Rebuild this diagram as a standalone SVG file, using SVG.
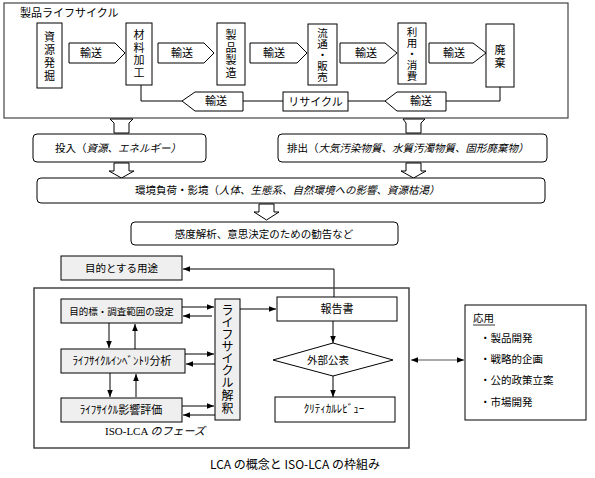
<svg xmlns="http://www.w3.org/2000/svg" width="595" height="478" viewBox="0 0 595 478">
<defs>
<style>
text{font-family:"Noto Sans CJK JP","Liberation Serif",serif;fill:#000;}
.t11{font-size:11px;}
.t105{font-size:10.5px;}
.t10{font-size:10px;}
.c{text-anchor:middle;}
.it{font-style:italic;}
.box{fill:#fff;stroke:#000;stroke-width:1;}
.gbox{fill:#efefef;stroke:#000;stroke-width:1;}
.rbox{fill:#fff;stroke:#000;stroke-width:1;}
.ln{fill:none;stroke:#000;stroke-width:1;}
.blk{fill:#fff;stroke:#000;stroke-width:1;}
</style>
<marker id="ah" viewBox="0 0 10 10" refX="10" refY="5" markerWidth="7" markerHeight="7" orient="auto-start-reverse" markerUnits="userSpaceOnUse">
<path d="M0,1 L10,5 L0,9 Z" fill="#000"/>
</marker>
</defs>
<rect width="595" height="478" fill="#fff"/>

<g id="lifecycle-frame">
<rect x="4" y="3" width="564" height="115" fill="none" stroke="#444" stroke-width="1.2"/>
<text x="20" y="17" class="t11">製品ライフサイクル</text>
</g>

<g id="connectors">
<g id="t1"><polygon class="blk" points="69,43 115,43 125,53 115,63 69,63"/><text x="91" y="57" class="t11 c">輸送</text></g>
<g id="t2"><polygon class="blk" points="158,43 204,43 214,53 204,63 158,63"/><text x="182" y="57" class="t11 c">輸送</text></g>
<g id="t3"><polygon class="blk" points="250,43 297,43 307,53 297,63 250,63"/><text x="274" y="57" class="t11 c">輸送</text></g>
<g id="t4"><polygon class="blk" points="340,43 385,43 397,53 385,63 340,63"/><text x="366" y="57" class="t11 c">輸送</text></g>
<g id="t5"><polygon class="blk" points="429,43 473,43 486,53 473,63 429,63"/><text x="454" y="57" class="t11 c">輸送</text></g>
<polyline class="ln" points="141,85 141,101 182,101"/>
<line class="ln" x1="243" y1="101" x2="283" y2="101"/>
<line class="ln" x1="348" y1="101" x2="385" y2="101"/>
<polyline class="ln" points="446,101 500,101 500,87"/>
<g id="t6"><polygon class="blk" points="182,101 195,92 243,92 243,111 195,111"/><text x="216" y="105" class="t11 c">輸送</text></g>
<g id="t7"><polygon class="blk" points="385,101 397,92 446,92 446,111 397,111"/><text x="421" y="105" class="t11 c">輸送</text></g>

<polygon class="blk" points="110,119 133,119 129,123 129,133 114,133 114,123"/>
<polygon class="blk" points="403,119 425,119 421,123 421,133 406,133 406,123"/>
<polygon class="blk" points="114,163 129,163 129,171 134,171 121.5,178 109,171 114,171"/>
<polygon class="blk" points="406,163 421,163 421,171 426,171 413.5,178 401,171 406,171"/>
<polygon class="blk" points="259,204 274,204 274,212 279,212 266.5,220 254,212 259,212"/>

<polyline class="ln" points="334,297 334,269 183,269" marker-end="url(#ah)"/>
<line class="ln" x1="182" y1="307" x2="214" y2="307" marker-end="url(#ah)"/>
<line class="ln" x1="212" y1="316" x2="183" y2="316" marker-end="url(#ah)"/>
<line class="ln" x1="185" y1="354" x2="214" y2="354" marker-end="url(#ah)"/>
<line class="ln" x1="215" y1="364" x2="186" y2="364" marker-end="url(#ah)"/>
<line class="ln" x1="182" y1="406" x2="214" y2="406" marker-end="url(#ah)"/>
<line class="ln" x1="215" y1="415" x2="183" y2="415" marker-end="url(#ah)"/>
<line class="ln" x1="109" y1="323" x2="109" y2="348" marker-end="url(#ah)"/>
<line class="ln" x1="135" y1="349" x2="135" y2="324" marker-end="url(#ah)"/>
<line class="ln" x1="110" y1="373" x2="110" y2="397" marker-end="url(#ah)"/>
<line class="ln" x1="136" y1="397" x2="136" y2="374" marker-end="url(#ah)"/>
<line class="ln" x1="240" y1="309" x2="276" y2="309" marker-end="url(#ah)"/>
<line class="ln" x1="333" y1="321" x2="333" y2="343" marker-end="url(#ah)"/>
<line class="ln" x1="333" y1="376" x2="333" y2="397" marker-end="url(#ah)"/>
<line x1="411" y1="360" x2="464" y2="360" stroke="#555" stroke-width="1.2" marker-start="url(#ah)" marker-end="url(#ah)"/>
</g>

<g id="n-shigen"><rect class="box" x="37" y="23" width="25" height="65"/>
<text class="t11 c" x="49.5" y="41">資</text><text class="t11 c" x="49.5" y="54">源</text><text class="t11 c" x="49.5" y="67">発</text><text class="t11 c" x="49.5" y="80">掘</text></g>
<g id="n-zairyo"><rect class="box" x="126" y="23" width="26" height="62"/>
<text class="t11 c" x="139" y="39">材</text><text class="t11 c" x="139" y="51.5">料</text><text class="t11 c" x="139" y="64">加</text><text class="t11 c" x="139" y="76.5">工</text></g>
<g id="n-seizo"><rect class="box" x="217" y="23" width="28" height="62"/>
<text class="t11 c" x="231" y="39">製</text><text class="t11 c" x="231" y="51.5">品</text><text class="t11 c" x="231" y="64">製</text><text class="t11 c" x="231" y="76.5">造</text></g>
<g id="n-ryutsu"><rect class="box" x="308" y="24" width="29" height="61"/>
<text class="t105 c" x="322.5" y="37">流</text><text class="t105 c" x="322.5" y="48">通</text><text class="t105 c" x="322.5" y="59">・</text><text class="t105 c" x="322.5" y="70">販</text><text class="t105 c" x="322.5" y="81">売</text></g>
<g id="n-riyo"><rect class="box" x="398" y="23" width="28" height="61"/>
<text class="t105 c" x="412" y="36">利</text><text class="t105 c" x="412" y="47">用</text><text class="t105 c" x="412" y="58">・</text><text class="t105 c" x="412" y="69">消</text><text class="t105 c" x="412" y="80">費</text></g>
<g id="n-haiki"><rect class="box" x="486" y="24" width="28" height="63"/>
<text class="t11 c" x="500" y="54">廃</text><text class="t11 c" x="500" y="66.5">棄</text></g>
<g id="n-recycle"><rect class="box" x="283" y="92" width="65" height="19"/>
<text class="t11 c" x="315.5" y="105.5">リサイクル</text></g>

<g id="n-input"><rect class="rbox" x="33" y="134" width="173" height="28" rx="4"/>
<text class="t105" x="55" y="152">投入（<tspan class="it">資源、エネルギー）</tspan></text></g>
<g id="n-output"><rect class="rbox" x="278" y="134" width="269" height="28" rx="4"/>
<text class="t105" x="287" y="152">排出（<tspan class="it">大気汚染物質、水質汚濁物質、固形廃棄物）</tspan></text></g>
<g id="n-impact"><rect class="rbox" x="37" y="178" width="508" height="25" rx="4"/>
<text class="t105" x="135" y="194">環境負荷・影境（<tspan class="it">人体、生態系、自然環境への影響、資源枯渇）</tspan></text></g>
<g id="n-kando"><rect class="rbox" x="131" y="222" width="267" height="23" rx="4"/>
<text class="t105 c" x="264" y="237.5">感度解析、意思決定のための勧告など</text></g>

<g id="iso-frame"><rect x="34" y="288" width="375" height="160" fill="none" stroke="#444" stroke-width="1.5"/>
<text x="105" y="435" style="font-size:11px;font-family:'Liberation Serif',serif;">ISO-LCA <tspan class="it" style="font-family:'Noto Sans CJK JP',sans-serif;">のフェーズ</tspan></text></g>
<g id="n-mokuteki-yoto"><rect class="gbox" x="61" y="256" width="121" height="24"/>
<text class="c" style="font-size:10.5px" x="121.5" y="272">目的とする用途</text></g>
<g id="n-goal"><rect class="gbox" x="61" y="299" width="121" height="24"/>
<text class="c" style="font-size:9.5px" x="121.5" y="314.5">目的標・調査範囲の設定</text></g>
<g id="n-inventory"><rect class="gbox" x="61" y="349" width="124" height="24"/>
<text class="c t11" x="122" y="365">ﾗｲﾌｻｲｸﾙｲﾝﾍﾞﾝﾄﾘ分析</text></g>
<g id="n-assessment"><rect class="gbox" x="61" y="398" width="121" height="24"/>
<text class="c t11" x="121" y="414">ﾗｲﾌｻｲｸﾙ影響評価</text></g>
<g id="n-interpret"><rect class="gbox" x="215" y="299" width="25" height="121"/>
<g style="font-size:12px" class="c">
<text x="227.5" y="315">ラ</text><text x="227.5" y="327">イ</text><text x="227.5" y="339">フ</text><text x="227.5" y="351">サ</text><text x="227.5" y="363">イ</text><text x="227.5" y="375">ク</text><text x="227.5" y="387">ル</text><text x="227.5" y="400">解</text><text x="227.5" y="413">釈</text></g></g>
<g id="n-report"><rect class="box" x="277" y="297" width="120" height="24"/>
<text class="c t11" x="337" y="313">報告書</text></g>
<g id="n-publish"><polygon class="box" points="273,360 333,343 393,360 333,376"/>
<text class="c t105" x="328" y="364">外部公表</text></g>
<g id="n-review"><rect class="box" x="275" y="397" width="120" height="25"/>
<text class="c t11" x="334" y="413">ｸﾘﾃｨｶﾙﾚﾋﾞｭｰ</text></g>

<g id="n-application"><rect class="box" x="465" y="305" width="121" height="115"/>
<text class="t105" x="473" y="322">応用</text>
<line x1="473" y1="325" x2="495" y2="325" stroke="#000" stroke-width="0.8"/>
<text class="t105" x="480" y="342">・製品開発</text>
<text class="t105" x="480" y="363">・戦略的企画</text>
<text class="t105" x="480" y="384">・公的政策立案</text>
<text class="t105" x="480" y="406">・市場開発</text></g>

<g id="caption"><text class="c" x="295" y="469" style="font-size:12px">LCA の概念と ISO-LCA の枠組み</text></g>
</svg>
